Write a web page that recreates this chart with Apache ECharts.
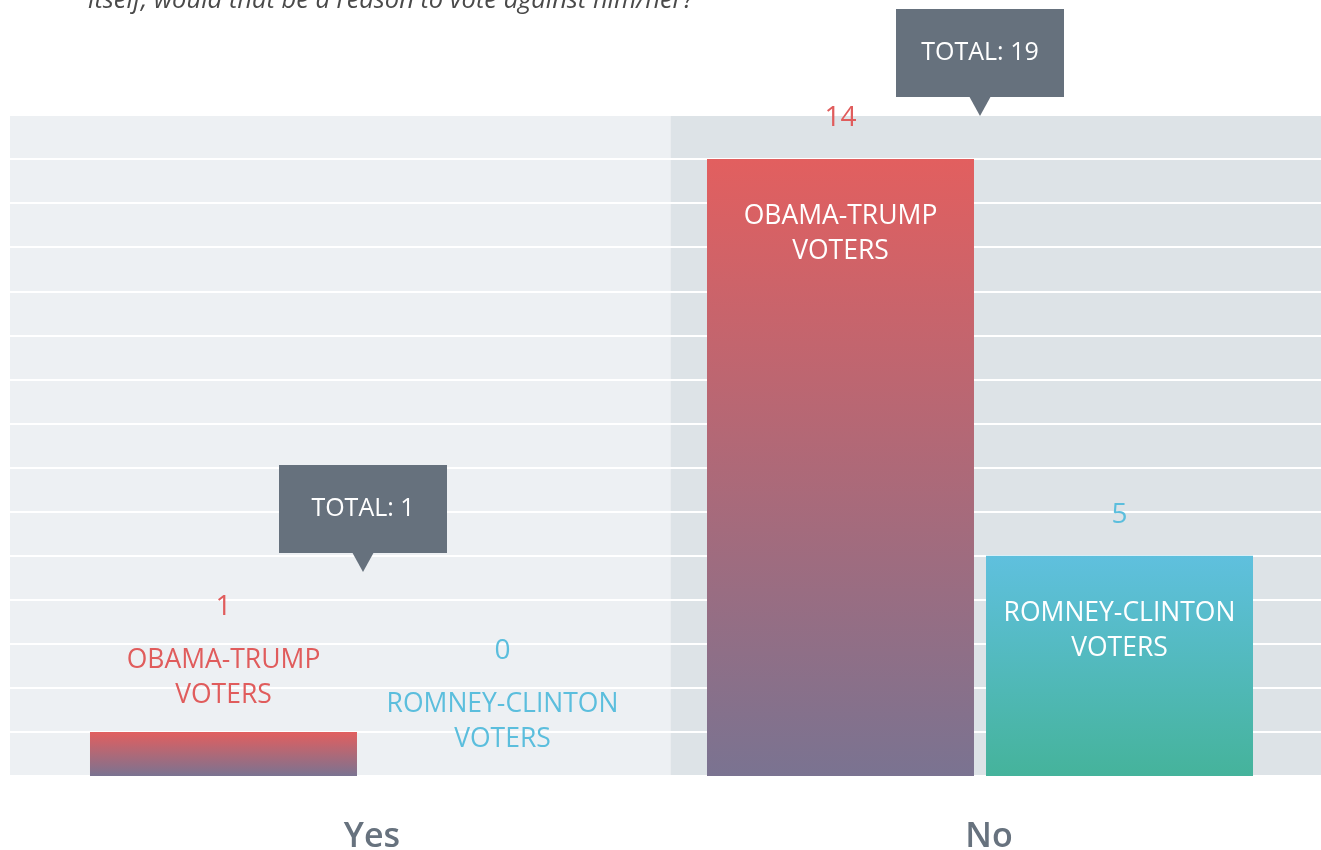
<!DOCTYPE html>
<html>
<head>
<meta charset="utf-8">
<script src="https://cdn.jsdelivr.net/npm/echarts@6/dist/echarts.min.js"></script>
<style>
  html, body { margin: 0; padding: 0; background: #ffffff; }
  #chart { width: 1321px; height: 850px; }
</style>
</head>
<body>
<div id="chart"></div>
<script>
// Answers to the question, split by voter group
const categories = ['Yes', 'No'];
const obamaTrump = [1, 14];
const romneyClinton = [0, 5];
const groupLabels = ['OBAMA-TRUMP\nVOTERS', 'ROMNEY-CLINTON\nVOTERS'];
const questionLine = 'itself, would that be a reason to vote against him/her?';

const FONT = "'Open Sans', 'Noto Sans', sans-serif";
const RED = '#e05c5c';
const BLUE = '#5bbedd';
const CALLOUT = '#66717d';
const SHORT_BAR = 3; // bars below this keep their labels above the bar

const chart = echarts.init(document.getElementById('chart'), null, { renderer: 'canvas' });

function barItems(values, textColor) {
  return values.map(v => {
    const short = v < SHORT_BAR;
    return {
      value: v,
      label: short
        ? { position: 'top', distance: 19, color: textColor }
        : { position: 'insideTop', distance: 40, color: '#ffffff' }
    };
  });
}

function valueMarks(values) {
  return values.map((v, i) => ({
    coord: [i, v],
    value: v,
    label: { offset: [0, v < SHORT_BAR ? -125 : -41] }
  }));
}

function barSeries(name, values, textColor, topColor, bottomColor, idx) {
  return {
    name: name,
    type: 'bar',
    xAxisIndex: 1,
    yAxisIndex: 1,
    barWidth: 267,
    barGap: '4.5%',
    data: barItems(values, textColor),
    itemStyle: {
      color: new echarts.graphic.LinearGradient(0, 0, 0, 1, [
        { offset: 0, color: topColor },
        { offset: 1, color: bottomColor }
      ])
    },
    label: {
      show: true,
      formatter: () => groupLabels[idx],
      fontFamily: FONT,
      fontSize: 26.5,
      lineHeight: 35,
      align: 'center'
    },
    markPoint: {
      symbol: 'circle',
      symbolSize: 1,
      itemStyle: { color: 'rgba(0,0,0,0)' },
      silent: true,
      label: {
        show: true,
        position: 'inside',
        color: textColor,
        fontFamily: FONT,
        fontSize: 28,
        formatter: p => String(p.value)
      },
      data: valueMarks(values)
    }
  };
}

const totals = categories.map((c, i) => obamaTrump[i] + romneyClinton[i]);
const peaks = categories.map((c, i) => Math.max(obamaTrump[i], romneyClinton[i]));

const option = {
  backgroundColor: '#ffffff',
  animation: false,
  title: {
    text: questionLine,
    left: 83,
    top: -17,
    textStyle: {
      fontFamily: FONT,
      fontStyle: 'italic',
      fontWeight: 'normal',
      fontSize: 25.5,
      color: '#4a4a4a'
    }
  },
  grid: [
    { left: 10, top: 115, width: 1321, height: 661, outerBoundsMode: 'none' },
    { left: 54.5, top: 115, width: 1234, height: 661, outerBoundsMode: 'none' }
  ],
  xAxis: [
    {
      gridIndex: 0,
      type: 'category',
      data: categories,
      z: 0,
      axisLine: { show: false },
      axisTick: { show: false },
      axisLabel: { show: false },
      splitArea: { show: true, areaStyle: { color: ['#edf0f3', '#dde3e7'] } }
    },
    {
      gridIndex: 1,
      type: 'category',
      data: categories,
      axisLine: { show: false },
      axisTick: { show: false },
      axisLabel: {
        color: '#67727e',
        fontFamily: FONT,
        fontSize: 34,
        fontWeight: 600,
        margin: 44,
        padding: [0, 0, 0, 18]
      }
    }
  ],
  yAxis: [
    {
      gridIndex: 0,
      type: 'value',
      min: 0,
      max: 15,
      interval: 1,
      z: 1,
      axisLine: { show: false },
      axisTick: { show: false },
      axisLabel: { show: false },
      splitLine: { show: true, lineStyle: { color: '#ffffff', width: 2 } }
    },
    {
      gridIndex: 1,
      type: 'value',
      min: 0,
      max: 15,
      interval: 1,
      show: false,
      splitLine: { show: false }
    }
  ],
  series: [
    barSeries('Obama-Trump voters', obamaTrump, RED, '#e25f5f', '#7a7391', 0),
    barSeries('Romney-Clinton voters', romneyClinton, BLUE, '#5fc0de', '#45b39b', 1),
    {
      name: 'Total',
      type: 'custom',
      xAxisIndex: 1,
      yAxisIndex: 1,
      clip: false,
      silent: true,
      z: 5,
      data: categories.map((c, i) => [i, totals[i], peaks[i]]),
      renderItem(params, api) {
        const cat = api.value(0);
        const total = api.value(1);
        const peak = api.value(2);
        const top = api.coord([cat, peak]);
        const tipY = top[1] - (peak < SHORT_BAR ? 160 : 43);
        const cx = top[0];
        const w = 168, h = 88, arrow = 19;
        return {
          type: 'group',
          children: [
            {
              type: 'rect',
              shape: { x: cx - w / 2, y: tipY - arrow - h, width: w, height: h },
              style: { fill: CALLOUT }
            },
            {
              type: 'polygon',
              shape: { points: [[cx - 11, tipY - arrow - 1], [cx + 11, tipY - arrow - 1], [cx, tipY]] },
              style: { fill: CALLOUT }
            },
            {
              type: 'text',
              x: cx,
              y: tipY - arrow - h / 2,
              style: {
                text: 'TOTAL: ' + total,
                fill: '#ffffff',
                fontFamily: FONT,
                fontSize: 25,
                align: 'center',
                verticalAlign: 'middle'
              }
            }
          ]
        };
      }
    }
  ]
};

chart.setOption(option);
</script>
</body>
</html>
